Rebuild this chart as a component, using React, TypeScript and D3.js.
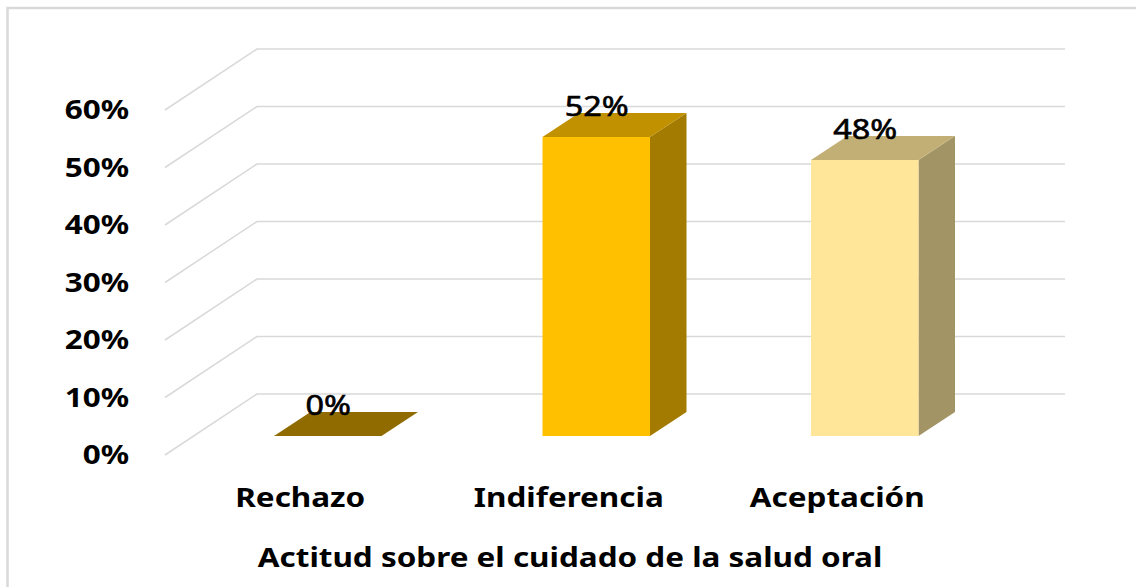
import React from "react";
import * as d3 from "d3";

const categories = ["Rechazo", "Indiferencia", "Aceptación"];
const values = [0, 52, 48];
const valueLabels = ["0%", "52%", "48%"];
const ticks = [0, 10, 20, 30, 40, 50, 60];
const frontColors = ["#8f6b00", "#ffc000", "#ffe699"];
const topColors = ["#8f6b00", "#c29100", "#c2af75"];
const sideColors = ["#8f6b00", "#a37b00", "#a39465"];
const axisTitle = "Actitud sobre el cuidado de la salud oral";

const W = 1136, H = 587;
const FONT = "'Noto Sans', sans-serif";
const y = d3.scaleLinear().domain([0, 60]).range([436, 91]);
const x = d3.scalePoint<string>().domain(categories).range([327.75, 864.75]);
const BAR_W = 107.5;
const DX = 36.5, DY = 24;
const WALL_DX = 92, WALL_DY = 61, WALL_X = 257, WALL_RIGHT = 1065, WALL_SHIFT = 42;
const STRETCH = 1.165;
const poly = d3.line();

function Label(props: { x: number; y: number; anchor: string; weight?: number; stroke?: number; sx?: number; children: React.ReactNode }) {
  const { x: px, y: py, anchor, weight = 700, stroke = 0, sx = STRETCH, children } = props;
  return (
    <text
      transform={`translate(${px},${py}) scale(${sx},1)`}
      textAnchor={anchor}
      fontSize={27}
      fontWeight={weight}
      fill="#000"
      stroke={stroke ? "#000" : "none"}
      strokeWidth={stroke}
    >
      {children}
    </text>
  );
}

export default function App() {
  return (
    <svg width={W} height={H} style={{ position: "absolute", left: 0, top: 0, background: "#fff" }} fontFamily={FONT}>
      <rect x={7.5} y={8} width={W + 20} height={H + 20} fill="#fff" stroke="#d9d9d9" strokeWidth={2.5} />
      {ticks.map((t) => {
        const back = y(t) - WALL_SHIFT;
        return (
          <path
            key={t}
            d={poly([[WALL_X - WALL_DX, back + WALL_DY], [WALL_X, back], [WALL_RIGHT, back]] as any) as string}
            fill="none"
            stroke="#d9d9d9"
            strokeWidth={1.5}
          />
        );
      })}
      {ticks.map((t) => (
        <Label key={t} x={129} y={y(t) + 28} anchor="end">{t}%</Label>
      ))}
      {categories.map((c, i) => {
        const x0 = (x(c) as number) - BAR_W / 2, x1 = x0 + BAR_W, top = y(values[i]), bot = y(0);
        return (
          <g key={c}>
            <path d={poly([[x1, top], [x1 + DX, top - DY], [x1 + DX, bot - DY], [x1, bot]] as any) as string} fill={sideColors[i]} />
            <path d={(poly([[x0, top], [x0 + DX, top - DY], [x1 + DX, top - DY], [x1, top]] as any) as string) + "Z"} fill={topColors[i]} />
            {values[i] > 0 && <rect x={x0} y={top} width={BAR_W} height={bot - top} fill={frontColors[i]} />}
          </g>
        );
      })}
      {categories.map((c, i) => (
        <Label key={c} x={(x(c) as number) + 0.5} y={y(values[i]) - 21} anchor="middle" weight={400} stroke={0.6} sx={1.2}>{valueLabels[i]}</Label>
      ))}
      {categories.map((c) => (
        <Label key={c} x={(x(c) as number) - 27.5} y={507} anchor="middle">{c}</Label>
      ))}
      <Label x={570} y={567} anchor="middle">{axisTitle}</Label>
    </svg>
  );
}
